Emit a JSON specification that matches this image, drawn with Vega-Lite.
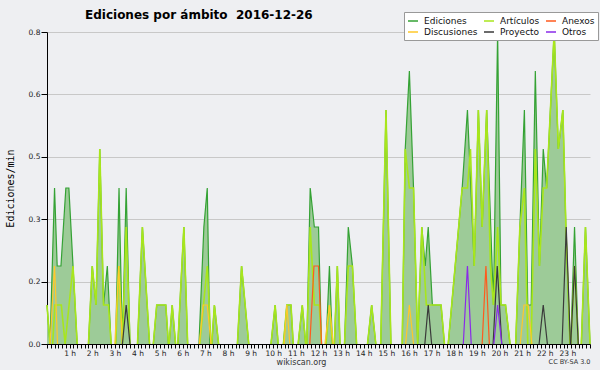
{
  "$schema": "https://vega.github.io/schema/vega-lite/v6.json",
  "width": 543,
  "height": 312,
  "autosize": {"type": "none"},
  "padding": {"left": 47, "top": 32, "right": 10, "bottom": 26},
  "background": "#eeeff2",
  "title": {"text": "Ediciones por ámbito\u00a0 2016-12-26", "anchor": "start", "frame": "group", "dx": 38, "dy": 32, "offset": 13, "baseline": "alphabetic", "font": "DejaVu Sans", "fontSize": 12, "fontWeight": "bold", "color": "#000000"},
  "config": {"view": {"stroke": null}},
  "datasets": {
    "E": [
      {"g":1,"t":0,"v":0.1},{"g":1,"t":8,"v":0},{"g":1,"t":20,"v":0.4},{"g":1,"t":27,"v":0.2},{"g":1,"t":37,"v":0.2},{"g":1,"t":50,"v":0.4},{"g":1,"t":58,"v":0.4},{"g":1,"t":80,"v":0},
      {"g":2,"t":110,"v":0},{"g":2,"t":120,"v":0.2},{"g":2,"t":130,"v":0.1},{"g":2,"t":140,"v":0.5},{"g":2,"t":150,"v":0.1},{"g":2,"t":160,"v":0.2},{"g":2,"t":170,"v":0},
      {"g":3,"t":182,"v":0},{"g":3,"t":191,"v":0.4},{"g":3,"t":200,"v":0},{"g":3,"t":210,"v":0.4},{"g":3,"t":220,"v":0},
      {"g":4,"t":240,"v":0},{"g":4,"t":253,"v":0.3},{"g":4,"t":272,"v":0},
      {"g":5,"t":282,"v":0},{"g":5,"t":291,"v":0.1},{"g":5,"t":315,"v":0.1},{"g":5,"t":322,"v":0},
      {"g":6,"t":324,"v":0},{"g":6,"t":332,"v":0.1},{"g":6,"t":341,"v":0},
      {"g":7,"t":347,"v":0},{"g":7,"t":363,"v":0.3},{"g":7,"t":373,"v":0},
      {"g":8,"t":403,"v":0},{"g":8,"t":416,"v":0.3},{"g":8,"t":425,"v":0.4},{"g":8,"t":432,"v":0},
      {"g":9,"t":437,"v":0},{"g":9,"t":444,"v":0.1},{"g":9,"t":455,"v":0},
      {"g":10,"t":505,"v":0},{"g":10,"t":516,"v":0.2},{"g":10,"t":535,"v":0},
      {"g":11,"t":594,"v":0},{"g":11,"t":605,"v":0.1},{"g":11,"t":613,"v":0},
      {"g":12,"t":627,"v":0},{"g":12,"t":636,"v":0.1},{"g":12,"t":647,"v":0.1},{"g":12,"t":653,"v":0},
      {"g":13,"t":666,"v":0},{"g":13,"t":677,"v":0.1},{"g":13,"t":686,"v":0},
      {"g":14,"t":689,"v":0},{"g":14,"t":698,"v":0.4},{"g":14,"t":709,"v":0.3},{"g":14,"t":720,"v":0.3},{"g":14,"t":728,"v":0},
      {"g":15,"t":740,"v":0},{"g":15,"t":749,"v":0.2},{"g":15,"t":757,"v":0},
      {"g":16,"t":762,"v":0},{"g":16,"t":770,"v":0.2},{"g":16,"t":777,"v":0},
      {"g":17,"t":789,"v":0},{"g":17,"t":799,"v":0.3},{"g":17,"t":810,"v":0.2},{"g":17,"t":821,"v":0},
      {"g":18,"t":850,"v":0},{"g":18,"t":861,"v":0.1},{"g":18,"t":872,"v":0},
      {"g":19,"t":885,"v":0},{"g":19,"t":899,"v":0.6},{"g":19,"t":912,"v":0},
      {"g":20,"t":942,"v":0},{"g":20,"t":950,"v":0.5},{"g":20,"t":961,"v":0.7},{"g":20,"t":972,"v":0.4},{"g":20,"t":983,"v":0},{"g":20,"t":994,"v":0.3},{"g":20,"t":1003,"v":0.2},{"g":20,"t":1011,"v":0.3},{"g":20,"t":1022,"v":0.1},{"g":20,"t":1045,"v":0.1},{"g":20,"t":1054,"v":0},
      {"g":21,"t":1064,"v":0},{"g":21,"t":1101,"v":0.4},{"g":21,"t":1115,"v":0.6},{"g":21,"t":1133,"v":0.2},{"g":21,"t":1144,"v":0.6},{"g":21,"t":1154,"v":0.3},{"g":21,"t":1166,"v":0.6},{"g":21,"t":1184,"v":0.1},{"g":21,"t":1195,"v":0.8},{"g":21,"t":1204,"v":0.1},{"g":21,"t":1216,"v":0.1},{"g":21,"t":1228,"v":0},
      {"g":22,"t":1243,"v":0},{"g":22,"t":1254,"v":0.3},{"g":22,"t":1266,"v":0.6},{"g":22,"t":1275,"v":0.1},{"g":22,"t":1284,"v":0.1},{"g":22,"t":1295,"v":0.7},{"g":22,"t":1306,"v":0.2},{"g":22,"t":1316,"v":0.5},{"g":22,"t":1325,"v":0.4},{"g":22,"t":1345,"v":0.8},{"g":22,"t":1356,"v":0.5},{"g":22,"t":1368,"v":0.6},{"g":22,"t":1376,"v":0.3},{"g":22,"t":1387,"v":0},
      {"g":23,"t":1389,"v":0},{"g":23,"t":1399,"v":0.3},{"g":23,"t":1409,"v":0},
      {"g":24,"t":1417,"v":0},{"g":24,"t":1428,"v":0.3},{"g":24,"t":1440,"v":0}
    ],
    "A": [
      {"g":1,"t":0,"v":0.1},{"g":1,"t":8,"v":0},
      {"g":2,"t":15,"v":0},{"g":2,"t":21,"v":0.1},{"g":2,"t":38,"v":0.1},{"g":2,"t":48,"v":0},{"g":2,"t":69,"v":0.2},{"g":2,"t":80,"v":0},
      {"g":3,"t":110,"v":0},{"g":3,"t":120,"v":0.2},{"g":3,"t":130,"v":0.1},{"g":3,"t":140,"v":0.5},{"g":3,"t":150,"v":0.1},{"g":3,"t":163,"v":0.1},{"g":3,"t":170,"v":0},
      {"g":4,"t":182,"v":0},{"g":4,"t":191,"v":0.2},{"g":4,"t":200,"v":0},{"g":4,"t":210,"v":0.3},{"g":4,"t":220,"v":0},
      {"g":5,"t":240,"v":0},{"g":5,"t":253,"v":0.3},{"g":5,"t":272,"v":0},
      {"g":6,"t":282,"v":0},{"g":6,"t":291,"v":0.1},{"g":6,"t":315,"v":0.1},{"g":6,"t":322,"v":0},
      {"g":7,"t":324,"v":0},{"g":7,"t":332,"v":0.1},{"g":7,"t":341,"v":0},
      {"g":8,"t":347,"v":0},{"g":8,"t":363,"v":0.3},{"g":8,"t":373,"v":0},
      {"g":9,"t":405,"v":0},{"g":9,"t":425,"v":0.2},{"g":9,"t":435,"v":0},
      {"g":10,"t":437,"v":0},{"g":10,"t":444,"v":0.1},{"g":10,"t":455,"v":0},
      {"g":11,"t":505,"v":0},{"g":11,"t":516,"v":0.2},{"g":11,"t":535,"v":0},
      {"g":12,"t":594,"v":0},{"g":12,"t":605,"v":0.1},{"g":12,"t":613,"v":0},
      {"g":13,"t":627,"v":0},{"g":13,"t":636,"v":0.1},{"g":13,"t":647,"v":0.1},{"g":13,"t":653,"v":0},
      {"g":14,"t":666,"v":0},{"g":14,"t":677,"v":0.1},{"g":14,"t":686,"v":0},
      {"g":15,"t":689,"v":0},{"g":15,"t":698,"v":0.3},{"g":15,"t":709,"v":0.1},{"g":15,"t":722,"v":0.1},{"g":15,"t":728,"v":0},
      {"g":16,"t":740,"v":0},{"g":16,"t":749,"v":0.1},{"g":16,"t":757,"v":0},
      {"g":17,"t":762,"v":0},{"g":17,"t":770,"v":0.2},{"g":17,"t":777,"v":0},
      {"g":18,"t":789,"v":0},{"g":18,"t":799,"v":0.2},{"g":18,"t":810,"v":0.2},{"g":18,"t":821,"v":0},
      {"g":19,"t":850,"v":0},{"g":19,"t":861,"v":0.1},{"g":19,"t":872,"v":0},
      {"g":20,"t":885,"v":0},{"g":20,"t":899,"v":0.6},{"g":20,"t":912,"v":0},
      {"g":21,"t":942,"v":0},{"g":21,"t":950,"v":0.5},{"g":21,"t":961,"v":0.4},{"g":21,"t":972,"v":0.4},{"g":21,"t":983,"v":0},{"g":21,"t":994,"v":0.3},{"g":21,"t":1006,"v":0.1},{"g":21,"t":1022,"v":0.1},{"g":21,"t":1045,"v":0.1},{"g":21,"t":1054,"v":0},
      {"g":22,"t":1064,"v":0},{"g":22,"t":1101,"v":0.4},{"g":22,"t":1115,"v":0.4},{"g":22,"t":1123,"v":0.5},{"g":22,"t":1133,"v":0.2},{"g":22,"t":1144,"v":0.6},{"g":22,"t":1154,"v":0.3},{"g":22,"t":1166,"v":0.6},{"g":22,"t":1176,"v":0.2},{"g":22,"t":1184,"v":0.1},{"g":22,"t":1195,"v":0.3},{"g":22,"t":1204,"v":0.1},{"g":22,"t":1216,"v":0.1},{"g":22,"t":1228,"v":0},
      {"g":23,"t":1243,"v":0},{"g":23,"t":1254,"v":0.3},{"g":23,"t":1266,"v":0.4},{"g":23,"t":1275,"v":0},
      {"g":24,"t":1284,"v":0},{"g":24,"t":1295,"v":0.5},{"g":24,"t":1306,"v":0.2},{"g":24,"t":1316,"v":0.4},{"g":24,"t":1325,"v":0.4},{"g":24,"t":1345,"v":0.8},{"g":24,"t":1356,"v":0.5},{"g":24,"t":1368,"v":0.6},{"g":24,"t":1376,"v":0.3},{"g":24,"t":1387,"v":0},
      {"g":25,"t":1389,"v":0},{"g":25,"t":1399,"v":0.2},{"g":25,"t":1409,"v":0},
      {"g":26,"t":1417,"v":0},{"g":26,"t":1428,"v":0.3},{"g":26,"t":1440,"v":0}
    ],
    "D": [
      {"g":1,"t":8,"v":0},{"g":1,"t":20,"v":0.2},{"g":1,"t":28,"v":0},
      {"g":2,"t":180,"v":0},{"g":2,"t":190,"v":0.2},{"g":2,"t":200,"v":0},
      {"g":3,"t":404,"v":0},{"g":3,"t":414,"v":0.1},{"g":3,"t":425,"v":0.1},{"g":3,"t":435,"v":0},
      {"g":4,"t":629,"v":0},{"g":4,"t":636,"v":0.1},{"g":4,"t":644,"v":0},
      {"g":5,"t":737,"v":0},{"g":5,"t":749,"v":0.1},{"g":5,"t":759,"v":0},
      {"g":6,"t":951,"v":0},{"g":6,"t":961,"v":0.1},{"g":6,"t":972,"v":0},
      {"g":7,"t":1255,"v":0},{"g":7,"t":1265,"v":0.1},{"g":7,"t":1276,"v":0.1},{"g":7,"t":1286,"v":0}
    ],
    "X": [
      {"g":1,"t":697,"v":0},{"g":1,"t":708,"v":0.2},{"g":1,"t":720,"v":0.2},{"g":1,"t":728,"v":0},
      {"g":2,"t":1154,"v":0},{"g":2,"t":1164,"v":0.2},{"g":2,"t":1173,"v":0}
    ],
    "P": [
      {"g":1,"t":200,"v":0},{"g":1,"t":210,"v":0.1},{"g":1,"t":220,"v":0},
      {"g":2,"t":1002,"v":0},{"g":2,"t":1011,"v":0.1},{"g":2,"t":1020,"v":0},
      {"g":3,"t":1183,"v":0},{"g":3,"t":1194,"v":0.2},{"g":3,"t":1206,"v":0},
      {"g":4,"t":1305,"v":0},{"g":4,"t":1316,"v":0.1},{"g":4,"t":1327,"v":0},
      {"g":5,"t":1366,"v":0},{"g":5,"t":1377,"v":0.3},{"g":5,"t":1388,"v":0},
      {"g":6,"t":1389,"v":0},{"g":6,"t":1399,"v":0.2},{"g":6,"t":1409,"v":0}
    ],
    "O": [
      {"g":1,"t":1104,"v":0},{"g":1,"t":1115,"v":0.2},{"g":1,"t":1125,"v":0},
      {"g":2,"t":1185,"v":0},{"g":2,"t":1195,"v":0.1},{"g":2,"t":1206,"v":0}
    ]
  },
  "resolve": {"axis": {"x": "independent"}},
  "layer": [
    {
      "data": {"name": "E"},
      "mark": {"type": "area", "color": "#9dcb98"},
      "encoding": {
        "x": {"field": "t", "type": "quantitative", "scale": {"domain": [0, 1440], "nice": false, "zero": false},
          "axis": {"tickCount": 144, "labelExpr": "datum.value % 60 == 0 && datum.value > 0 && datum.value < 1440 ? (datum.value / 60) + ' h' : ''", "labelOverlap": false, "labelFlush": false, "labelBound": false, "labelFont": "DejaVu Sans", "labelFontSize": 7.5, "labelColor": "#222222", "labelPadding": 1, "labelDx": -3, "tickSize": 4, "tickColor": "#000000", "domainColor": "#000000", "grid": false, "zindex": 1,
            "title": "wikiscan.org", "titleFont": "DejaVu Sans", "titleFontSize": 8, "titleFontWeight": "normal", "titleColor": "#333333", "titleX": 254, "titleY": 18, "titleBaseline": "middle", "titleAlign": "center"}},
        "y": {"field": "v", "type": "quantitative", "stack": null, "scale": {"domain": [0, 0.8], "nice": false},
          "axis": {"values": [0, 0.04, 0.08, 0.12, 0.16, 0.2, 0.24, 0.28, 0.32, 0.36, 0.4, 0.44, 0.48, 0.52, 0.56, 0.6, 0.64, 0.68, 0.72, 0.76, 0.8],
            "labelExpr": "abs(datum.value / 0.16 - round(datum.value / 0.16)) < 0.01 ? format(datum.value, '.1f') : ''",
            "labelOverlap": false, "labelFont": "DejaVu Sans", "labelFontSize": 7.5, "labelColor": "#222222", "labelPadding": 1,
            "tickSize": {"condition": {"test": "abs(datum.value / 0.16 - round(datum.value / 0.16)) < 0.01", "value": 6}, "value": 3},
            "tickColor": "#000000", "domainColor": "#000000",
            "grid": true, "gridColor": "#c8c8c8",
            "gridOpacity": {"condition": {"test": "abs(datum.value / 0.16 - round(datum.value / 0.16)) < 0.01 && datum.value > 0", "value": 1}, "value": 0},
            "title": "Ediciones/min", "titleFont": "DejaVu Sans Mono", "titleFontSize": 10, "titleFontWeight": "normal", "titleColor": "#000000", "titleX": -37, "titleY": 156, "titleAngle": -90, "titleBaseline": "middle", "titleAlign": "center"}},
        "detail": {"field": "g", "type": "nominal"}
      }
    },
    {
      "data": {"name": "E"},
      "mark": {"type": "line", "strokeWidth": 1.2},
      "encoding": {
        "x": {"field": "t", "type": "quantitative", "axis": {"orient": "top", "domain": false, "ticks": false, "labels": false, "grid": false, "title": "CC BY-SA 3.0", "titleFont": "DejaVu Sans", "titleFontSize": 6.5, "titleFontWeight": "normal", "titleColor": "#333333", "titleX": 543, "titleY": 329, "titleAlign": "right", "titleBaseline": "middle"}},
        "y": {"field": "v", "type": "quantitative"},
        "detail": {"field": "g", "type": "nominal"},
        "color": {"datum": "Ediciones", "type": "nominal",
          "scale": {"domain": ["Ediciones", "Artículos", "Anexos", "Discusiones", "Proyecto", "Otros"], "range": ["#34a234", "#a8e61c", "#ff5a1e", "#ffc82a", "#3a3a3a", "#8a2be8"]},
          "legend": {"title": null, "orient": "none", "legendX": 357, "legendY": -20, "direction": "horizontal", "columns": 3, "symbolType": "stroke", "symbolSize": 100, "symbolStrokeWidth": 1.5, "labelFont": "DejaVu Sans", "labelFontSize": 9, "labelColor": "#111111", "labelLimit": 0, "labelOffset": 5, "rowPadding": 0, "columnPadding": 3, "padding": 3, "fillColor": "#ffffff", "strokeColor": "#999999"}}
      }
    },
    {
      "data": {"name": "A"},
      "mark": {"type": "line", "strokeWidth": 1.6},
      "encoding": {
        "x": {"field": "t", "type": "quantitative", "axis": null},
        "y": {"field": "v", "type": "quantitative"},
        "detail": {"field": "g", "type": "nominal"},
        "color": {"datum": "Artículos", "type": "nominal"}
      }
    },
    {
      "data": {"name": "D"},
      "mark": {"type": "line", "strokeWidth": 1.2},
      "encoding": {
        "x": {"field": "t", "type": "quantitative", "axis": null},
        "y": {"field": "v", "type": "quantitative"},
        "detail": {"field": "g", "type": "nominal"},
        "color": {"datum": "Discusiones", "type": "nominal"}
      }
    },
    {
      "data": {"name": "X"},
      "mark": {"type": "line", "strokeWidth": 1.2},
      "encoding": {
        "x": {"field": "t", "type": "quantitative", "axis": null},
        "y": {"field": "v", "type": "quantitative"},
        "detail": {"field": "g", "type": "nominal"},
        "color": {"datum": "Anexos", "type": "nominal"}
      }
    },
    {
      "data": {"name": "P"},
      "mark": {"type": "line", "strokeWidth": 1.2},
      "encoding": {
        "x": {"field": "t", "type": "quantitative", "axis": null},
        "y": {"field": "v", "type": "quantitative"},
        "detail": {"field": "g", "type": "nominal"},
        "color": {"datum": "Proyecto", "type": "nominal"}
      }
    },
    {
      "data": {"name": "O"},
      "mark": {"type": "line", "strokeWidth": 1.2},
      "encoding": {
        "x": {"field": "t", "type": "quantitative", "axis": null},
        "y": {"field": "v", "type": "quantitative"},
        "detail": {"field": "g", "type": "nominal"},
        "color": {"datum": "Otros", "type": "nominal"}
      }
    }
  ]
}
